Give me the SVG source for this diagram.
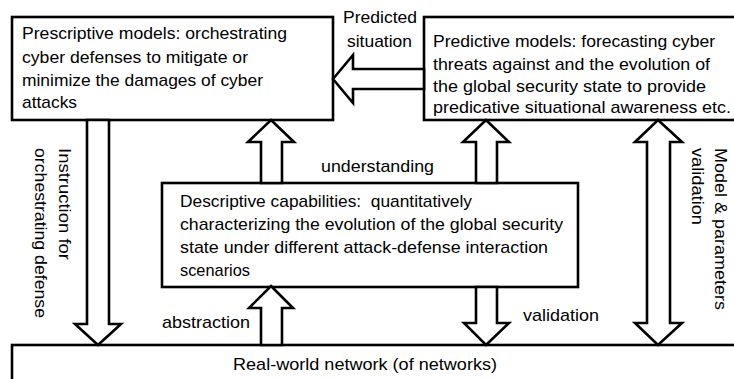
<svg xmlns="http://www.w3.org/2000/svg" width="734" height="379" viewBox="0 0 734 379">
<style>
.box{fill:#fff;stroke:#000;stroke-width:2.6}
.arr{fill:#fff;stroke:#000;stroke-width:2.6;stroke-linejoin:miter}
text{font-family:"Liberation Sans",Arial,sans-serif;font-size:17px;fill:#000}
</style>
<rect width="734" height="379" fill="#fff"/>
<g id="prescriptive">
<rect class="box" x="12" y="17" width="321" height="103"/>
<text x="22" y="39" textLength="265" lengthAdjust="spacingAndGlyphs">Prescriptive models: orchestrating</text>
<text x="22" y="63" textLength="226" lengthAdjust="spacingAndGlyphs">cyber defenses to mitigate or</text>
<text x="22" y="86" textLength="241" lengthAdjust="spacingAndGlyphs">minimize the damages of cyber</text>
<text x="22" y="108" textLength="55" lengthAdjust="spacingAndGlyphs">attacks</text>
</g>
<g id="predictive">
<rect class="box" x="424" y="17" width="330" height="103"/>
<text x="433" y="47" textLength="282" lengthAdjust="spacingAndGlyphs">Predictive models: forecasting cyber</text>
<text x="433" y="70" textLength="277" lengthAdjust="spacingAndGlyphs">threats against and the evolution of</text>
<text x="433" y="92" textLength="273" lengthAdjust="spacingAndGlyphs">the global security state to provide</text>
<text x="433" y="113" textLength="298" lengthAdjust="spacingAndGlyphs">predicative situational awareness etc.</text>
</g>
<g id="descriptive">
<rect class="box" x="162" y="183" width="416" height="104"/>
<text x="180" y="207" textLength="292" lengthAdjust="spacingAndGlyphs" xml:space="preserve">Descriptive capabilities:  quantitatively</text>
<text x="180" y="230" textLength="383" lengthAdjust="spacingAndGlyphs">characterizing the evolution of the global security</text>
<text x="180" y="253" textLength="368" lengthAdjust="spacingAndGlyphs">state under different attack-defense interaction</text>
<text x="180" y="276" textLength="70" lengthAdjust="spacingAndGlyphs">scenarios</text>
</g>
<g id="realworld">
<rect class="box" x="12" y="345" width="740" height="50"/>
<text x="233" y="370" textLength="264" lengthAdjust="spacingAndGlyphs">Real-world network (of networks)</text>
</g>
<g id="connectors">
<polygon class="arr" points="333,79 353,55 353,69 424,69 424,89 353,89 353,103"/>
<polygon class="arr" points="98,345 121,324 109,324 109,120 87,120 87,324 75,324"/>
<polygon class="arr" points="271,120 294,142 282,142 282,183 261,183 261,142 248,142"/>
<polygon class="arr" points="486,120 509,142 497,142 497,183 476,183 476,142 463,142"/>
<polygon class="arr" points="658,120 682,142 670,142 670,323 682,323 658,345 635,323 647,323 647,142 635,142"/>
<polygon class="arr" points="271,286 293,308 282,308 282,345 261,345 261,308 249,308"/>
<polygon class="arr" points="486,345 509,323 497,323 497,287 476,287 476,323 464,323"/>
<text x="343" y="23" textLength="74" lengthAdjust="spacingAndGlyphs">Predicted</text>
<text x="347" y="47" textLength="65" lengthAdjust="spacingAndGlyphs">situation</text>
<text x="321" y="172" textLength="113" lengthAdjust="spacingAndGlyphs">understanding</text>
<text x="162" y="328" textLength="88" lengthAdjust="spacingAndGlyphs">abstraction</text>
<text x="523" y="321" textLength="76" lengthAdjust="spacingAndGlyphs">validation</text>
<text transform="translate(59,148) rotate(90)" textLength="112" lengthAdjust="spacingAndGlyphs">Instruction for</text>
<text transform="translate(35,148) rotate(90)" textLength="170" lengthAdjust="spacingAndGlyphs">orchestrating defense</text>
<text transform="translate(715,148) rotate(90)" textLength="162" lengthAdjust="spacingAndGlyphs">Model &amp; parameters</text>
<text transform="translate(692,148) rotate(90)" textLength="77" lengthAdjust="spacingAndGlyphs">validation</text>
</g>
</svg>
